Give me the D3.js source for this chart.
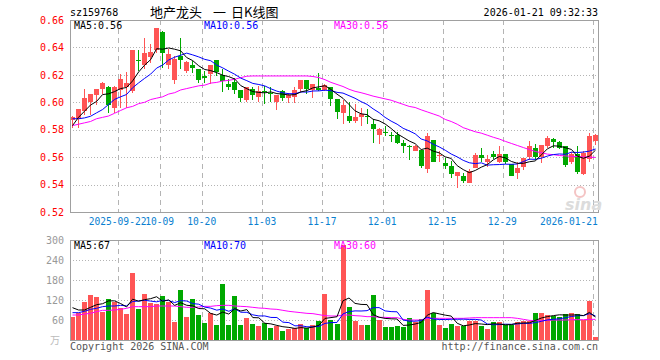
<!DOCTYPE html>
<html><head><meta charset="utf-8">
<script src="https://cdn.jsdelivr.net/npm/d3@7/dist/d3.min.js"></script>
<style>
html,body{margin:0;padding:0;background:#fff;}
svg text{font-family:"DejaVu Sans Mono",monospace;font-size:10px;}
</style></head>
<body><svg id="c" width="660" height="360"></svg>
<script>
// ---------- DATA ----------
const dates = ["2025-09-10","2025-09-11","2025-09-12","2025-09-15","2025-09-16","2025-09-17","2025-09-18","2025-09-19",
"2025-09-22","2025-09-23","2025-09-24","2025-09-25","2025-09-26","2025-09-29","2025-09-30",
"2025-10-09","2025-10-10","2025-10-13","2025-10-14","2025-10-15","2025-10-16","2025-10-17","2025-10-20",
"2025-10-21","2025-10-22","2025-10-23","2025-10-24","2025-10-27","2025-10-28","2025-10-29","2025-10-30","2025-10-31",
"2025-11-03","2025-11-04","2025-11-05","2025-11-06","2025-11-07","2025-11-10","2025-11-11","2025-11-12","2025-11-13","2025-11-14",
"2025-11-17","2025-11-18","2025-11-19","2025-11-20","2025-11-21","2025-11-24","2025-11-25","2025-11-26","2025-11-27","2025-11-28",
"2025-12-01","2025-12-02","2025-12-03","2025-12-04","2025-12-05","2025-12-08","2025-12-09","2025-12-10","2025-12-11","2025-12-12",
"2025-12-15","2025-12-16","2025-12-17","2025-12-18","2025-12-19","2025-12-22","2025-12-23","2025-12-24","2025-12-25","2025-12-26",
"2025-12-29","2025-12-30","2025-12-31",
"2026-01-05","2026-01-06","2026-01-07","2026-01-08","2026-01-09","2026-01-12","2026-01-13","2026-01-14","2026-01-15","2026-01-16",
"2026-01-19","2026-01-20","2026-01-21"];

const open  = [0.587,0.588,0.594,0.600,0.605,0.610,0.611,0.5955,0.609,0.611,0.608,0.631,0.627,0.633,0.638,0.651,0.627,0.616,0.634,0.623,0.627,0.6245,0.619,
0.6205,0.6307,0.620,0.613,0.615,0.609,0.602,0.610,0.604,0.608,0.6067,0.600,0.608,0.603,0.604,0.610,0.616,0.609,0.6107,0.609,0.611,0.6026,
0.5923,0.5903,0.5862,0.5891,0.5901,0.5844,0.5764,0.5786,0.5759,0.5764,0.5702,0.568,0.5648,0.5653,0.5514,0.5727,0.5607,0.556,0.5538,0.5465,0.5465,0.5408,
0.5519,0.5617,0.5568,0.5624,0.5568,0.5624,0.5548,0.5487,0.5531,0.5604,0.567,0.5604,0.5683,0.5732,0.5707,0.5678,0.5568,0.5621,0.5477,0.559,0.5715];
const close = [0.589,0.595,0.603,0.606,0.610,0.614,0.598,0.611,0.617,0.614,0.638,0.6305,0.636,0.637,0.654,0.636,0.635,0.6315,0.631,0.6295,0.625,0.616,0.618,
0.627,0.622,0.6156,0.611,0.609,0.603,0.611,0.605,0.608,0.6075,0.6062,0.605,0.603,0.605,0.6087,0.616,0.610,0.613,0.6087,0.6126,0.6026,0.5928,
0.5977,0.5862,0.5896,0.5918,0.5896,0.5808,0.5808,0.5781,0.5754,0.5702,0.5678,0.5675,0.5683,0.5538,0.5756,0.5568,0.5612,0.5538,0.5477,0.5494,0.5425,0.5501,
0.5617,0.5597,0.5587,0.5599,0.5624,0.5568,0.5465,0.5519,0.5597,0.5683,0.5599,0.5685,0.5739,0.5707,0.567,0.5543,0.5621,0.5494,0.563,0.5751,0.5759];
const high  = [0.590,0.595,0.610,0.606,0.610,0.615,0.612,0.612,0.6205,0.622,0.638,0.638,0.647,0.6425,0.654,0.652,0.639,0.634,0.647,0.630,0.630,0.6245,0.623,
0.627,0.631,0.624,0.617,0.618,0.609,0.611,0.611,0.612,0.612,0.611,0.6055,0.609,0.607,0.611,0.616,0.616,0.613,0.621,0.6136,0.611,0.6026,
0.602,0.600,0.5984,0.596,0.5952,0.5879,0.581,0.583,0.5783,0.5781,0.5727,0.5685,0.5692,0.5653,0.5776,0.5727,0.5648,0.5592,0.5575,0.5494,0.5487,0.5511,
0.5629,0.567,0.5617,0.5648,0.5678,0.5624,0.5548,0.5568,0.5597,0.5715,0.5697,0.5685,0.5751,0.5739,0.5715,0.5678,0.5634,0.5683,0.5645,0.5776,0.5768];
const low   = [0.581,0.581,0.591,0.591,0.598,0.606,0.592,0.592,0.596,0.596,0.607,0.623,0.624,0.629,0.636,0.625,0.624,0.613,0.624,0.621,0.621,0.614,0.614,
0.6136,0.619,0.6075,0.609,0.606,0.600,0.600,0.602,0.600,0.599,0.600,0.5947,0.601,0.5996,0.5996,0.6075,0.6058,0.6028,0.608,0.608,0.5975,0.588,
0.5842,0.5849,0.5849,0.583,0.5844,0.5702,0.5697,0.5756,0.5707,0.5697,0.5629,0.558,0.5648,0.5519,0.5482,0.5568,0.5568,0.5511,0.5445,0.5376,0.5408,0.5408,
0.5519,0.5568,0.5531,0.5585,0.5555,0.5548,0.5462,0.5438,0.5506,0.558,0.558,0.5555,0.5666,0.5666,0.5658,0.5526,0.555,0.5477,0.547,0.5568,0.569];
// volume in 万
const volume = [70,80,115,135,129,85,123,115,95,78,201,93,138,110,107,132,115,55,150,69,123,75,51,80,45,168,45,132,45,66,48,42,50,36,43,28,32,35,48,35,45,58,138,60,
48,285,99,57,45,45,135,60,39,39,42,39,65,55,62,150,80,45,36,48,42,42,57,57,42,33,54,54,45,45,54,57,57,81,81,75,72,69,78,81,78,60,117,9];
const ma5Lead  = [0.583,0.589,0.5935,0.598];
const ma10Lead = [0.588,0.588,0.5886,0.5898,0.5923,0.5947,0.5984,0.6021,0.604];
const ma30 = [0.583,0.584,0.585,0.586,0.588,0.589,0.590,0.592,0.594,0.596,0.597,0.599,0.600,0.602,0.603,0.604,0.606,0.607,0.609,0.610,0.611,0.612,0.6125,
0.614,0.6145,0.6155,0.616,0.6168,0.618,0.619,0.6192,0.6192,0.6192,0.6192,0.6192,0.6192,0.6192,0.6192,0.6192,0.6192,0.6188,0.618,0.6165,0.6145,0.613,
0.6115,0.6095,0.608,0.607,0.6058,0.6045,0.6035,0.6025,0.6015,0.600,0.5985,0.597,0.5962,0.5945,0.593,0.5915,0.590,0.5875,0.586,0.584,0.5815,0.580,
0.5785,0.5775,0.576,0.5745,0.5732,0.5715,0.570,0.5685,0.567,0.5655,0.5641,0.5632,0.5622,0.5618,0.5612,0.5609,0.5606,0.5604,0.5602,0.560,0.5598];
const vma5Lead  = [97,90,90,98];
const vma10Lead = [82,82,86,92,95,100,102,102,104];
const vma30 = [75,75,78,80,85,89,89,90,92,95,100,100,100,100,102,102,102,102,100,98,98,99,101,101,103,104,104,102,101,100,98,96,95,93,92,89,86,84,82,80,79,76,73,72,
72,75,75,73,72,70,70,68,68,67,67,62,60,60,60,65,65,65,65,65,65,65,66,67,67,67,67,67,67,67,65,62,59,58,58,59,60,60,60,61,61,61,62,62];
const priceTicks = [0.52,0.54,0.56,0.58,0.60,0.62,0.64,0.66];
const volTicks = [60,120,180,240,300];
const tickDates = ["2025-09-22","2025-10-09","2025-10-20","2025-11-03","2025-11-17","2025-12-01","2025-12-15","2025-12-29","2026-01-21"];
const tickLabels = ["2025-09-22","10-09","10-20","11-03","11-17","12-01","12-15","12-29","2026-01-21"];
const priceLegend = ["MA5:0.56","MA10:0.56","MA30:0.56"];
const volLegend = ["MA5:67","MA10:70","MA30:60"];
const code = "sz159768", titleParts = ["地产龙头","一","日K线图"], stamp = "2026-01-21 09:32:33";

// ---------- helpers ----------
function movAvg(arr, n, lead){
  return arr.map((v,i)=> i < n-1 ? lead[i] : d3.mean(arr.slice(i-n+1,i+1)));
}
const ma5 = movAvg(close,5,ma5Lead), ma10 = movAvg(close,10,ma10Lead);
const vma5 = movAvg(volume,5,vma5Lead), vma10 = movAvg(volume,10,vma10Lead);

const RED="#ff5555", GREEN="#00a800", GRID="#b4b4b4", FRAME="#a0a0a0";
const L=70, R=598, PT=20, PB=212, VT=240, VB=340;
const svg = d3.select("#c");

const x = d3.scaleBand().domain(dates).range([L,R]).paddingInner(1/6).paddingOuter(0);
const y = d3.scaleLinear().domain([0.52,0.66]).range([PB,PT]);
const yv = d3.scaleLinear().domain([0,300]).range([VB,VT]);

// ---------- grids ----------
function hgrid(scale, ticks){
  svg.append("g").selectAll("line").data(ticks).join("line")
    .attr("x1",L).attr("x2",R).attr("y1",d=>Math.round(scale(d))+0.5).attr("y2",d=>Math.round(scale(d))+0.5)
    .attr("stroke",GRID).attr("stroke-dasharray","1,2");
}
hgrid(y, priceTicks.slice(1,-1));
hgrid(yv, volTicks.slice(0,-1));
[[PT,PB],[VT,VB]].forEach(([t,b])=>{
  svg.append("g").selectAll("line").data(tickDates).join("line")
    .attr("x1",d=>Math.round(x(d))+0.5).attr("x2",d=>Math.round(x(d))+0.5)
    .attr("y1",t).attr("y2",b).attr("stroke",GRID).attr("stroke-dasharray","5,4");
});

// ---------- axes ----------
const yAxis = svg.append("g").attr("transform",`translate(${L},0)`)
  .call(d3.axisLeft(y).tickValues(priceTicks).tickFormat(d3.format(".2f")).tickSize(0).tickPadding(6));
yAxis.select(".domain").remove();
yAxis.selectAll("text").attr("fill","#ff0000").style("font-family","DejaVu Sans Mono").style("font-size","10px");

const vAxis = svg.append("g").attr("transform",`translate(${L},0)`)
  .call(d3.axisLeft(yv).tickValues(volTicks).tickSize(0).tickPadding(6));
vAxis.select(".domain").remove();
vAxis.selectAll("text").attr("fill","#999").style("font-family","DejaVu Sans Mono").style("font-size","10px");
svg.append("text").attr("x",50).attr("y",344).attr("fill","#bbb").style("font-family","Noto Sans CJK SC").style("font-size","10px").text("万");

// x labels
const xl = svg.append("g").selectAll("text").data(tickDates).join("text")
  .attr("y",225).attr("fill","#0a7fd0").attr("text-anchor","middle").style("font-size","9.6px")
  .attr("x",d=>x(d)-0.5).text((d,i)=>tickLabels[i]);
xl.each(function(){
  const bb=this.getBBox();
  if(bb.x+bb.width>R){ d3.select(this).attr("x",+d3.select(this).attr("x")-(bb.x+bb.width-R)); }
});

// ---------- candles ----------
const idx = d3.range(dates.length);
const up = i=>close[i]>=open[i];
const cg = svg.append("g").attr("shape-rendering","crispEdges");
cg.selectAll("line").data(idx).join("line")
  .attr("x1",i=>Math.round(x(dates[i])+2)+0.5).attr("x2",i=>Math.round(x(dates[i])+2)+0.5)
  .attr("y1",i=>y(high[i])).attr("y2",i=>y(low[i]))
  .attr("stroke",i=>up(i)?RED:GREEN);
cg.selectAll("rect").data(idx).join("rect")
  .attr("x",i=>Math.round(x(dates[i]))).attr("width",5)
  .attr("y",i=>y(Math.max(open[i],close[i])))
  .attr("height",i=>Math.max(1,Math.abs(y(open[i])-y(close[i]))))
  .attr("fill",i=>up(i)?RED:GREEN);

// ---------- volume ----------
svg.append("g").attr("shape-rendering","crispEdges").selectAll("rect").data(idx).join("rect")
  .attr("x",i=>Math.round(x(dates[i]))).attr("width",5)
  .attr("y",i=>yv(volume[i])).attr("height",i=>VB-yv(volume[i]))
  .attr("fill",i=>up(i)?RED:GREEN);

// ---------- MA lines ----------
function maLine(arr, scale, color){
  svg.append("path").datum(idx)
    .attr("d",d3.line().x(i=>x(dates[i])+2.5).y(i=>scale(arr[i])))
    .attr("fill","none").attr("stroke",color).attr("stroke-width",1);
}
maLine(ma30,y,"#ff00ff"); maLine(ma10,y,"#0000ff"); maLine(ma5,y,"#000000");
maLine(vma30,yv,"#ff00ff"); maLine(vma10,yv,"#0000ff"); maLine(vma5,yv,"#000000");

// ---------- frames ----------
[[PT,PB],[VT,VB]].forEach(([t,b])=>{
  svg.append("rect").attr("x",L+0.5).attr("y",t+0.5).attr("width",R-L).attr("height",b-t)
    .attr("fill","none").attr("stroke",FRAME);
});

// ---------- sina logo ----------
svg.append("circle").attr("cx",580).attr("cy",192).attr("r",5).attr("fill","none").attr("stroke","#f4c4c4").attr("stroke-width",2);
svg.append("text").attr("x",565).attr("y",210).attr("fill","#dcdcdc")
  .style("font-family","DejaVu Sans").style("font-size","16px").style("font-style","italic").style("font-weight","bold").text("sina");

// ---------- legends ----------
const legendX = [74,204,334], legendC = ["#000","#0000ff","#ff00ff"];
function legend(yy, texts){
  texts.forEach((t,i)=>svg.append("text").attr("x",legendX[i]).attr("y",yy).attr("fill",legendC[i]).text(t));
}
legend(29, priceLegend);
legend(249, volLegend);

// ---------- header / footer ----------
svg.append("text").attr("x",70).attr("y",16).attr("fill","#000").text(code);
const tt = svg.append("text").attr("y",17).attr("fill","#000")
  .style("font-family","Noto Sans CJK SC").style("font-size","13px");
[150,213,231].forEach((xx,i)=>tt.append("tspan").attr("x",xx).text(titleParts[i]));
svg.append("text").attr("x",R).attr("y",16).attr("text-anchor","end").attr("fill","#000").text(stamp);
svg.append("text").attr("x",70).attr("y",350).attr("fill","#555").text("Copyright 2026 SINA.COM");
svg.append("text").attr("x",R).attr("y",350).attr("text-anchor","end").attr("fill","#555").text("http://finance.sina.com.cn");
</script></body></html>
